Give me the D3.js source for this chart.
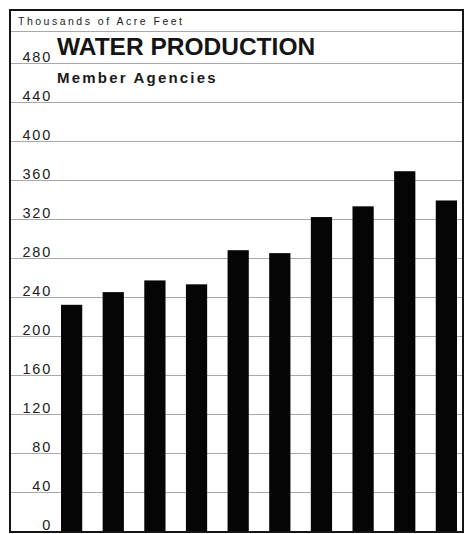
<!DOCTYPE html>
<html>
<head>
<meta charset="utf-8">
<script src="https://cdn.jsdelivr.net/npm/d3@7"></script>
<style>
  html, body { margin: 0; padding: 0; background: #fff; }
  svg { display: block; }
</style>
</head>
<body>
<div id="chart"></div>
<script>
// ---- data ----
const categories = ["1", "2", "3", "4", "5", "6", "7", "8", "9", "10"];
const production = [232, 245, 257, 253, 288, 285, 322, 333, 369, 339];
const tickValues = [0, 40, 80, 120, 160, 200, 240, 280, 320, 360, 400, 440, 480];
const unitLabel = "Thousands of Acre Feet";
const titleText = "WATER PRODUCTION";
const subtitleText = "Member Agencies";

// ---- layout ----
const W = 468, H = 534;
const frame = { left: 10, top: 10, right: 463, bottom: 532 };

const svg = d3.select("#chart").append("svg")
  .attr("width", W).attr("height", H);

svg.append("rect").attr("width", W).attr("height", H).attr("fill", "#fff");

const y = d3.scaleLinear().domain([0, 480]).range([531, 63]);
const x = d3.scaleBand().domain(categories).range([61, 457])
  .paddingInner(0.49).paddingOuter(0);

// gridlines
svg.append("g").selectAll("line").data(tickValues.filter(d => d > 0)).join("line")
  .attr("x1", frame.left).attr("x2", frame.right)
  .attr("y1", d => y(d) + 0.5).attr("y2", d => y(d) + 0.5)
  .attr("stroke", "#a8a8a8").attr("stroke-width", 1);

// header line
svg.append("line")
  .attr("x1", frame.left).attr("x2", frame.right)
  .attr("y1", 31.5).attr("y2", 31.5)
  .attr("stroke", "#a8a8a8").attr("stroke-width", 1);

// axis labels via d3 axis
const axis = d3.axisLeft(y).tickValues(tickValues).tickSize(0).tickPadding(0)
  .tickFormat(d3.format("d"));
const gAxis = svg.append("g").attr("transform", "translate(52,0)").call(axis);
gAxis.select(".domain").remove();
gAxis.selectAll("text")
  .attr("font-family", "'Liberation Sans', Arial, sans-serif")
  .attr("font-size", 14.5)
  .attr("letter-spacing", "1.8px")
  .attr("fill", "#222")
  .attr("dy", null)
  .attr("y", -2)
  .attr("dominant-baseline", "auto");

// bars
svg.append("g").selectAll("rect").data(production).join("rect")
  .attr("x", (d, i) => x(categories[i]))
  .attr("width", x.bandwidth())
  .attr("y", d => y(d))
  .attr("height", d => y(0) - y(d))
  .attr("fill", "#050505");

// frame
svg.append("rect")
  .attr("x", frame.left).attr("y", frame.top)
  .attr("width", frame.right - frame.left)
  .attr("height", frame.bottom - frame.top)
  .attr("fill", "none").attr("stroke", "#151515").attr("stroke-width", 2);

// texts
svg.append("text").text(unitLabel)
  .attr("x", 18).attr("y", 25)
  .attr("font-family", "'Liberation Sans', Arial, sans-serif")
  .attr("font-size", 10.5).attr("letter-spacing", "2.5px")
  .attr("fill", "#222");

svg.append("text").text(titleText)
  .attr("x", 57).attr("y", 55)
  .attr("font-family", "'Liberation Sans', Arial, sans-serif")
  .attr("font-size", 24.5).attr("font-weight", "bold")
  .attr("fill", "#151515");

svg.append("text").text(subtitleText)
  .attr("x", 57).attr("y", 83)
  .attr("font-family", "'Liberation Sans', Arial, sans-serif")
  .attr("font-size", 15).attr("font-weight", "bold")
  .attr("letter-spacing", "2.2px")
  .attr("fill", "#1a1a1a");
</script>
</body>
</html>
